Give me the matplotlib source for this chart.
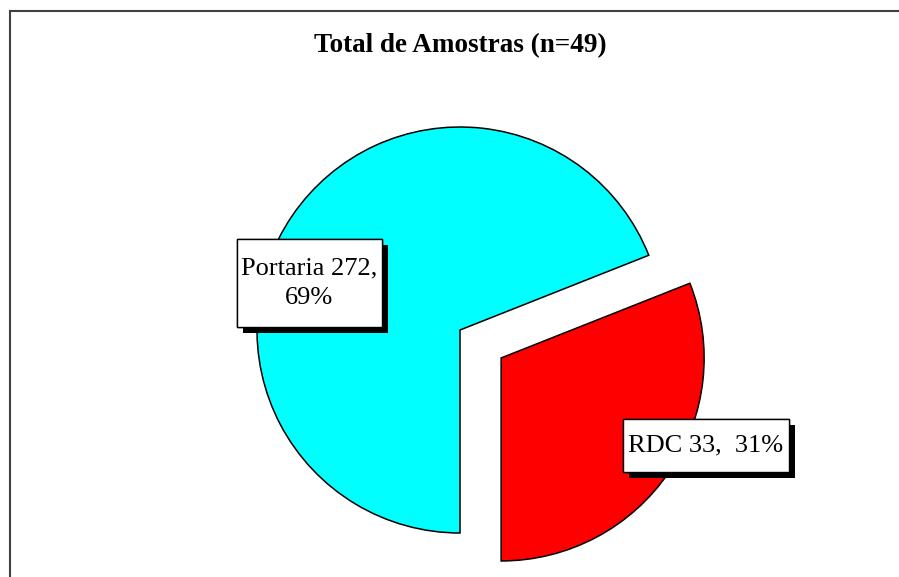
import matplotlib.pyplot as plt
import matplotlib.patheffects as pe
from matplotlib.lines import Line2D
from matplotlib.patches import Rectangle

plt.rcParams['font.family'] = ['Liberation Serif', 'DejaVu Serif']

categorias = ['Portaria', 'RDC']
amostras = [272, 33]
percentuais = [69, 31]
rotulos = ['Portaria 272,\n69%', 'RDC 33,  31%']
cores = ['#00FFFF', '#FF0000']
titulo = 'Total de Amostras (n=49)'

W, H = 899, 577
fig = plt.figure(figsize=(W / 100, H / 100), dpi=100)
ax = fig.add_axes([0, 0, 1, 1])

# pie centre/radius in pixels -> data units (1 unit = radius)
cx, cy, r = 460, 330, 203


def px(x, y):
    return (x - cx) / r, (cy - y) / r


start = percentuais[1] / 100 * 360 - 90
ax.pie(percentuais, colors=cores, startangle=start,
       explode=[0, 0.245], radius=1, center=(0, 0),
       wedgeprops=dict(edgecolor='black', linewidth=1.1), frame=True)
ax.set_xlim(-cx / r, (W - cx) / r)
ax.set_ylim(-(H - cy) / r, cy / r)
ax.axis('off')

# label boxes (left, top, right, bottom in pixels)
caixas = [(237, 239, 382, 327), (623, 419, 789, 472)]
for texto, (x0, y0, x1, y1) in zip(rotulos, caixas):
    ax0, ay1 = px(x0, y0)
    ax1, ay0 = px(x1, y1)
    rect = Rectangle((ax0, ay0), ax1 - ax0, ay1 - ay0, facecolor='white',
                     edgecolor='black', linewidth=1, zorder=5)
    rect.set_path_effects([
        pe.withSimplePatchShadow(offset=(4, -4), shadow_rgbFace='black', alpha=1),
        pe.Normal()])
    ax.add_patch(rect)
    ax.text((ax0 + ax1) / 2, (ay0 + ay1) / 2, texto, ha='center', va='center',
            fontsize=19, linespacing=1.45, zorder=6)

fig.text(460 / W, 1 - 46 / H, titulo, ha='center', va='center',
         fontsize=19.5, fontweight='bold')

# outer frame (top and left edges visible)
fig.add_artist(Line2D([10 / W, 898 / W], [1 - 11 / H, 1 - 11 / H],
                      color='#404040', linewidth=1.5))
fig.add_artist(Line2D([10 / W, 10 / W], [1 - 11 / H, 0],
                      color='#404040', linewidth=1.5))

fig.savefig('out.png', dpi=100, facecolor='white')
